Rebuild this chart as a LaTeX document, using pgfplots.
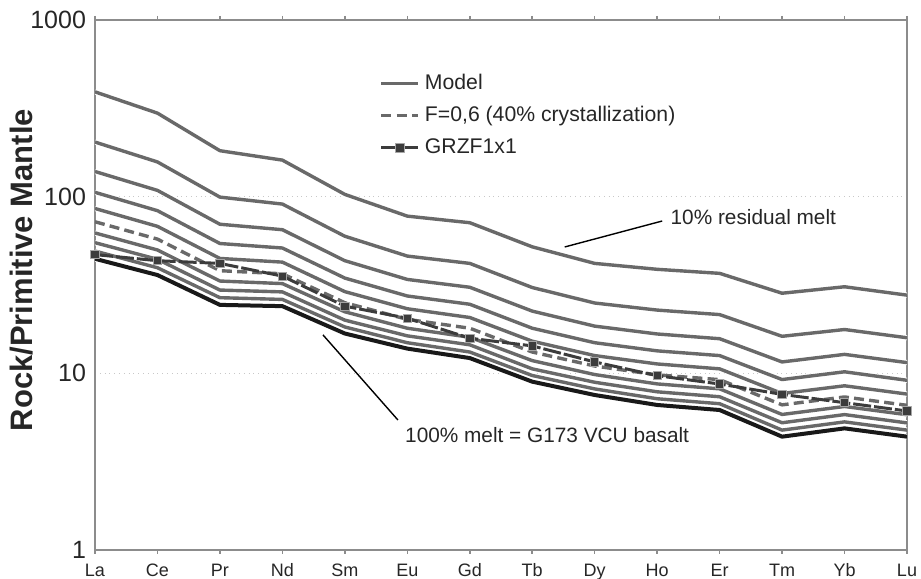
\documentclass[border=0pt]{standalone}
\usepackage{pgfplots}
\usepackage{pgfplotstable}
\usepackage{fontspec}
\setmainfont{Liberation Sans}
\pgfplotsset{compat=1.18}
\definecolor{modelgray}{RGB}{105,105,105}
\definecolor{framegray}{RGB}{140,140,140}
\definecolor{griddgray}{RGB}{200,200,200}
\definecolor{grzf}{RGB}{60,60,60}
\pgfplotstableread{
x  f01   f02   f03   f04   f05   f06   f07   f08   f09   f10   grzf
0  392   203.7 138.8 105.8 85.7  72.1  62.3  54.9  49.2  44.5  47.0
1  297   157.2 108.5 83.3  67.9  57.5  49.9  44.2  39.6  36.0  43.4
2  182   99.4  69.8  54.3  44.7  38.1  33.3  29.6  26.8  24.4  41.9
3  161   90.8  65.0  51.2  42.6  36.6  32.2  28.9  26.2  24.0  35.5
4  103   59.7  43.4  34.6  29.0  25.1  22.3  20.0  18.3  16.8  24.0
5  77.6  46.1  34.0  27.4  23.2  20.2  18.0  16.3  14.9  13.8  20.5
6  71.2  41.9  30.7  24.6  20.7  18.0  16.0  14.5  13.2  12.2  15.8
7  52.0  30.6  22.5  18.0  15.2  13.2  11.8  10.6  9.72  8.97  14.3
8  41.9  25.0  18.5  14.9  12.6  11.0  9.84  8.90  8.16  7.54  11.6
9  38.8  22.8  16.7  13.4  11.3  9.80  8.71  7.86  7.18  6.62  9.7
10 36.8  21.5  15.7  12.6  10.6  9.21  8.17  7.37  6.73  6.20  8.7
11 28.4  16.2  11.6  9.22  7.69  6.63  5.85  5.25  4.77  4.38  7.6
12 30.9  17.7  12.8  10.2  8.50  7.35  6.49  5.84  5.31  4.88  6.82
13 27.7  15.9  11.5  9.13  7.63  6.59  5.83  5.24  4.77  4.38  6.12
}\data
\begin{document}
\begin{tikzpicture}
\begin{axis}[
  scale only axis,
  width=406pt, height=265pt,
  ymode=log, ymin=1, ymax=1000,
  xmin=0, xmax=13,
  xtick={0,...,13},
  xticklabels={La,Ce,Pr,Nd,Sm,Eu,Gd,Tb,Dy,Ho,Er,Tm,Yb,Lu},
  ytick={1,10,100,1000},
  yticklabels={1,10,100,1000},
  /pgf/number format/assume math mode=true,
  axis line style={draw=framegray, line width=1pt},
  tick style={draw=framegray, line width=0.8pt},
  xtick align=outside,
  major tick length=2pt,
  ytick style={draw=none},
  minor y tick num=0,
  yminorticks=false,
  ymajorgrids=true,
  grid style={dotted, draw=griddgray, line width=0.6pt},
  x tick label style={font=\fontsize{9}{10}\selectfont, text=black!85, yshift=-1pt, text height=6.6pt, text depth=2pt},
  y tick label style={font=\fontsize{12.5}{14}\selectfont, text=black!85, xshift=-1pt},
  ylabel={\textbf{Rock/Primitive Mantle}},
  ylabel style={font=\fontsize{15.5}{18}\selectfont, at={(axis description cs:-0.0899,0.528)}, anchor=center, text=black!85},
  legend style={draw=none, fill=none, at={(rel axis cs:0.349,0.906)}, anchor=north west,
    font=\fontsize{10.6}{12}\selectfont, row sep=3pt, inner sep=0pt, text=black!85},
  legend cell align=left,
  legend image code/.code={\draw[mark repeat=2,mark phase=2,#1] plot coordinates {(0pt,0pt) (9.25pt,0pt) (18.5pt,0pt)};},
  every axis plot/.append style={line join=round},
  model/.style={draw=modelgray, line width=1.7pt, preaction={draw=white, line width=2.6pt}},
]
\addplot[model, no marks] table[x=x, y=f01] {\data};
\addlegendentry{Model}
\addplot[model, no marks, forget plot] table[x=x, y=f02] {\data};
\addplot[model, no marks, forget plot] table[x=x, y=f03] {\data};
\addplot[model, no marks, forget plot] table[x=x, y=f04] {\data};
\addplot[model, no marks, forget plot] table[x=x, y=f05] {\data};
\addplot[model, no marks, forget plot] table[x=x, y=f07] {\data};
\addplot[model, no marks, forget plot] table[x=x, y=f08] {\data};
\addplot[model, no marks, forget plot] table[x=x, y=f09] {\data};
\addplot[no marks, forget plot, draw=black!90, line width=2pt, preaction={draw=white, line width=2.8pt}] table[x=x, y=f10] {\data};
\addplot[no marks, draw=modelgray, line width=1.7pt, dash pattern=on 5pt off 2.6pt] table[x=x, y=f06] {\data};
\addlegendentry{F=0,6 (40\% crystallization)}
\addplot[draw=grzf, line width=1.5pt, dash pattern=on 9pt off 1.5pt, mark=square*, mark size=2.1pt,
  mark options={solid, fill=grzf, draw=black!35, line width=0.4pt}] table[x=x, y=grzf] {\data};
\addlegendentry{GRZF1x1}
% annotations
\draw[black, line width=0.7pt] (axis cs:7.52,51.9) -- (axis cs:9.08,72.8);
\node[anchor=west, font=\fontsize{10.4}{12}\selectfont, text=black!85, inner sep=0pt] at (axis cs:9.21,76.7) {10\% residual melt};
\draw[black, line width=0.7pt] (axis cs:3.65,16.5) -- (axis cs:4.85,5.44);
\node[anchor=west, font=\fontsize{10.4}{12}\selectfont, text=black!85, inner sep=0pt] at (axis cs:4.96,4.47) {100\% melt = G173 VCU basalt};
\end{axis}
\pgfresetboundingbox
\path ([shift={(-47.5pt,-14.5pt)}]current axis.south west) rectangle ([shift={(7pt,10pt)}]current axis.north east);
\end{tikzpicture}
\end{document}
